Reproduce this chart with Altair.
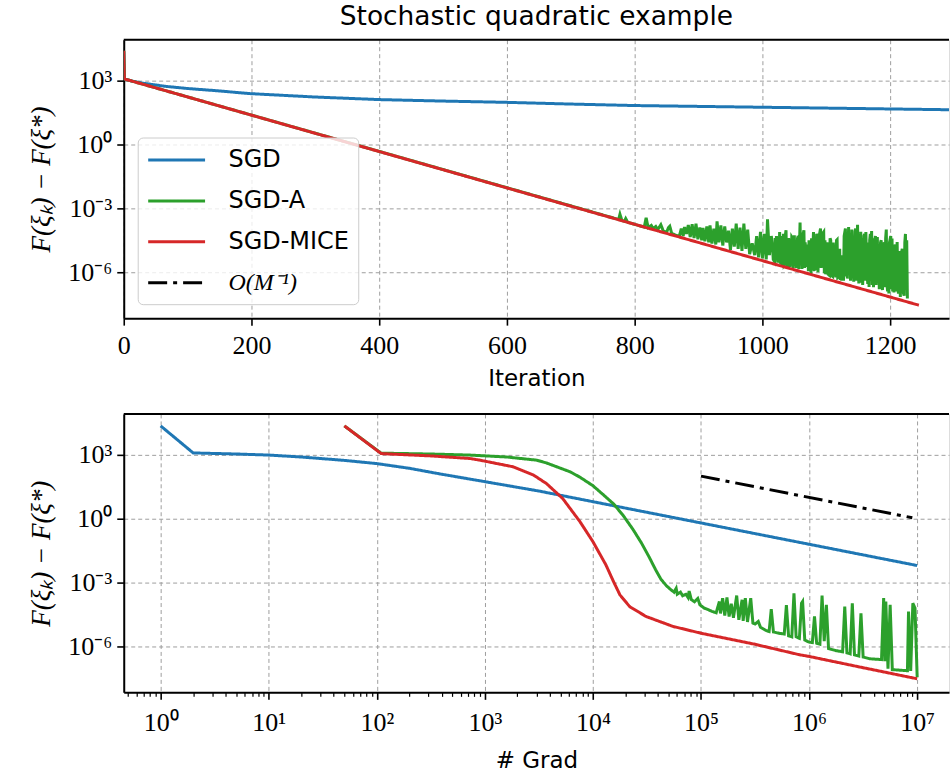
import altair as alt
import pandas as pd

TITLE = "Stochastic quadratic example"
SERIES = ["SGD", "SGD-A", "SGD-MICE", "O(M⁻¹)"]
COLORS = ["#1f77b4", "#2ca02c", "#d62728", "#000000"]
DASHES = [[1, 0], [1, 0], [1, 0], [19, 6, 4, 6]]

# ---------- top panel: (iteration, log10 of F(xi_k)-F(xi*)) ----------
sgd_top = [(0, 4.36), (1, 3.08), (10, 3.00), (30, 2.88), (66, 2.73), (100, 2.63), (144, 2.53),
           (198, 2.39), (300, 2.23), (400, 2.11), (500, 2.04), (600, 1.98), (700, 1.90),
           (800, 1.83), (900, 1.79), (1000, 1.75), (1100, 1.71), (1200, 1.67), (1300, 1.63)]
mice_top = [(0, 4.40), (1, 3.08), (400, -0.33), (800, -3.75), (1245, -7.55)]
sgda_top = [(0, 4.40), (1, 3.08), (770, -3.48), (775, -3.52), (777, -3.28), (780, -3.57), (784, -3.61),
            (786, -3.48), (789, -3.65), (800, -3.75), (815, -3.88), (818, -3.44), (821, -3.90),
            (826, -3.80), (829, -3.95), (833, -3.85), (836, -4.00), (841, -3.77), (845, -4.08),
            (850, -4.12), (853, -3.90), (855, -3.84), (858, -4.18), (866, -4.28), (870, -4.30),
            (873, -3.95), (876, -4.30), (878, -3.88), (881, -4.20), (884, -3.78), (887, -4.35),
            (890, -3.75), (893, -4.40), (896, -3.72), (899, -4.45), (902, -3.90), (905, -4.50),
            (907, -3.92), (910, -4.55), (913, -3.85), (916, -4.60), (918, -3.80), (921, -4.65),
            (924, -3.95), (927, -4.70), (929, -3.61), (932, -4.60), (935, -3.80), (938, -4.75),
            (941, -3.85), (944, -4.60), (947, -4.05), (950, -4.95), (953, -3.95), (956, -4.80),
            (959, -3.72), (962, -4.90), (965, -3.90), (968, -5.00), (971, -3.72), (974, -4.90),
            (977, -4.00), (980, -5.15), (984, -4.64), (988, -5.20), (991, -4.30), (994, -5.30),
            (997, -4.10), (1000, -5.35), (1003, -4.20), (1006, -5.40), (1008, -3.52), (1011, -5.20),
            (1014, -4.30), (1016, -4.89), (1017, -5.40), (1019, -5.50), (1020, -4.40), (1021, -5.45),
            (1022, -4.30), (1024, -5.55), (1025, -4.50), (1026, -5.50), (1027, -4.11), (1028, -5.55),
            (1030, -5.60), (1031, -4.30), (1032, -5.60), (1033, -4.20), (1034, -5.65), (1035, -5.60),
            (1036, -4.25), (1037, -4.03), (1038, -5.65), (1040, -5.70), (1041, -4.40), (1042, -4.66),
            (1043, -5.75), (1044, -4.50), (1045, -5.70), (1046, -4.35), (1047, -4.40), (1048, -5.80),
            (1050, -4.27), (1051, -5.70), (1052, -4.50), (1053, -5.80), (1055, -4.40), (1056, -4.30),
            (1057, -5.85), (1059, -3.67), (1060, -5.60), (1061, -4.20), (1062, -5.85), (1063, -4.30),
            (1065, -4.03), (1066, -5.80), (1067, -4.60), (1068, -5.20), (1070, -5.75), (1071, -4.70),
            (1072, -5.95), (1073, -4.50), (1075, -5.90), (1076, -5.95), (1077, -4.40), (1078, -5.90),
            (1080, -4.11), (1081, -5.95), (1082, -4.40), (1083, -5.90), (1085, -4.20), (1086, -4.30),
            (1087, -6.00), (1089, -4.30), (1091, -3.95), (1092, -5.80), (1093, -5.50), (1094, -4.20),
            (1096, -4.11), (1097, -6.05), (1098, -4.50), (1099, -6.10), (1101, -4.70), (1102, -4.60),
            (1103, -6.10), (1105, -6.15), (1106, -4.40), (1107, -4.50), (1108, -6.15), (1110, -6.20),
            (1111, -4.60), (1112, -6.20), (1113, -4.70), (1115, -6.25), (1116, -4.50), (1117, -4.47),
            (1118, -6.25), (1120, -6.20), (1121, -4.90), (1122, -6.37), (1123, -5.50), (1124, -6.40),
            (1125, -5.20), (1127, -6.40), (1128, -4.30), (1130, -3.95), (1131, -6.20), (1132, -4.50),
            (1133, -6.30), (1135, -3.88), (1136, -6.00), (1137, -4.20), (1138, -6.40), (1140, -4.00),
            (1141, -6.30), (1142, -4.40), (1143, -6.45), (1145, -4.10), (1146, -3.95), (1147, -6.40),
            (1149, -3.77), (1150, -5.80), (1151, -6.53), (1152, -4.30), (1153, -6.20), (1154, -4.10),
            (1155, -6.50), (1156, -4.40), (1157, -6.60), (1159, -4.30), (1160, -4.20), (1161, -6.40),
            (1162, -4.11), (1163, -5.50), (1165, -6.55), (1166, -4.60), (1167, -6.69), (1168, -4.50),
            (1169, -4.20), (1170, -6.40), (1171, -4.06), (1172, -6.60), (1173, -4.40), (1174, -6.70),
            (1176, -4.50), (1177, -4.30), (1178, -6.60), (1180, -4.35), (1181, -6.50), (1182, -4.70),
            (1183, -6.80), (1185, -4.60), (1186, -4.50), (1187, -6.50), (1188, -6.84), (1189, -4.80),
            (1191, -4.60), (1192, -6.70), (1193, -4.40), (1194, -4.00), (1195, -6.50), (1196, -6.90),
            (1197, -5.00), (1198, -7.00), (1199, -4.60), (1201, -4.30), (1202, -6.80), (1203, -4.42),
            (1204, -6.90), (1205, -4.80), (1206, -6.95), (1207, -4.90), (1208, -4.70), (1209, -6.90),
            (1211, -4.58), (1212, -6.70), (1213, -7.00), (1214, -5.00), (1216, -7.16), (1217, -5.20),
            (1219, -4.90), (1220, -6.90), (1222, -7.10), (1223, -4.60), (1224, -4.20), (1225, -6.80),
            (1226, -4.50), (1227, -7.23)]

# ---------- bottom panel: (log10 # grad, log10 of F(xi_k)-F(xi*)) ----------
sgd_bot = [(0.0, 4.36), (0.301, 3.09), (0.7, 3.04), (1.0, 2.99), (1.3, 2.90), (1.5, 2.82), (1.7, 2.74),
           (2.0, 2.59), (2.3, 2.37), (2.6, 2.09), (2.955, 1.78), (3.5, 1.30), (4.0, 0.80), (4.5, 0.30),
           (5.0, -0.20), (5.5, -0.70), (6.0, -1.20), (6.5, -1.70), (7.0, -2.20)]
mice_bot = [(1.70, 4.36), (2.04, 3.06), (2.5, 2.95), (2.86, 2.83), (2.955, 2.75), (3.26, 2.44),
            (3.45, 2.05), (3.57, 1.65), (3.72, 0.95), (3.88, -0.14), (4.0, -1.08), (4.12, -2.17),
            (4.19, -2.95), (4.25, -3.58), (4.34, -4.13), (4.49, -4.59), (4.74, -5.06), (5.0, -5.38),
            (5.5, -5.90), (5.91, -6.39), (6.0, -6.47), (6.5, -7.00), (7.0, -7.52)]
sgda_bot = [(1.70, 4.36), (2.04, 3.08), (2.5, 3.04), (2.86, 2.99), (3.2, 2.90), (3.48, 2.75), (3.57, 2.62),
            (3.79, 2.20), (3.88, 1.95), (4.0, 1.55), (4.09, 1.15), (4.19, 0.70), (4.28, 0.15),
            (4.37, -0.50), (4.45, -1.15), (4.52, -1.80), (4.58, -2.40), (4.63, -2.85), (4.68, -3.15),
            (4.72, -3.33), (4.75, -3.45), (4.77, -3.27), (4.78, -3.55), (4.81, -3.45), (4.83, -3.62),
            (4.86, -3.55), (4.88, -3.70), (4.89, -3.40), (4.91, -3.80), (4.94, -3.90), (4.97, -3.75),
            (4.99, -4.05), (5.03, -4.20), (5.07, -4.28), (5.10, -4.35), (5.14, -4.42), (5.17, -3.89),
            (5.18, -4.45), (5.20, -3.73), (5.22, -4.55), (5.24, -3.70), (5.26, -4.60), (5.28, -4.00),
            (5.30, -4.65), (5.33, -3.61), (5.35, -4.75), (5.38, -3.81), (5.39, -4.80), (5.41, -3.73),
            (5.43, -4.85), (5.46, -3.73), (5.48, -4.90), (5.50, -4.95), (5.53, -4.83), (5.55, -5.10),
            (5.60, -5.25), (5.63, -5.30), (5.65, -4.25), (5.67, -5.32), (5.72, -5.38), (5.77, -5.42),
            (5.79, -4.06), (5.81, -5.50), (5.84, -5.55), (5.86, -3.50), (5.88, -5.55), (5.91, -5.62),
            (5.93, -3.97), (5.94, -3.89), (5.96, -5.70), (6.00, -5.80), (6.03, -5.82), (6.05, -4.59),
            (6.07, -5.85), (6.10, -5.90), (6.12, -3.61), (6.14, -5.75), (6.16, -4.05), (6.18, -6.10),
            (6.25, -6.20), (6.31, -6.25), (6.33, -4.13), (6.35, -6.30), (6.38, -6.35), (6.40, -3.97),
            (6.42, -6.40), (6.46, -6.45), (6.48, -4.44), (6.50, -6.50), (6.56, -6.58), (6.62, -6.60),
            (6.67, -6.62), (6.69, -3.73), (6.70, -6.70), (6.71, -3.89), (6.73, -7.05), (6.75, -4.05),
            (6.77, -7.09), (6.85, -7.12), (6.91, -7.14), (6.92, -4.36), (6.94, -7.15), (6.96, -3.97),
            (6.98, -4.20), (7.00, -7.45)]
order_bot = [(5.0, 2.0), (6.955, 0.045)]

# tick values
y_ticks = [1e-6, 1e-3, 1, 1e3]
top_x_ticks = [0, 200, 400, 600, 800, 1000, 1200]
bot_x_ticks = [m * 10.0 ** k for k in range(-1, 8) for m in range(1, 10) if 0.45 <= m * 10.0 ** k <= 1.9e7]

W, H = 827, 279
SANS = "DejaVu Sans"
SERIF = "Liberation Serif"


def frame(pairs, name, xlog=False):
    return pd.DataFrame({
        "x": [10 ** a if xlog else a for a, _ in pairs],
        "y": [10 ** b for _, b in pairs],
        "series": name,
    })


color_scale = alt.Scale(domain=SERIES, range=COLORS)
dash_scale = alt.Scale(domain=SERIES, range=DASHES)
y_scale = alt.Scale(type="log", domain=[10 ** -8.158, 10 ** 4.922], nice=False)
top_x_scale = alt.Scale(domain=[0, W / 0.64], nice=False, zero=False)
bot_x_scale = alt.Scale(type="log", domain=[10 ** -0.3416, 10 ** (-0.3416 + W / 108.3)], nice=False)

common_axis = dict(
    grid=True, gridDash=[4, 3], gridColor="#9e9e9e", gridWidth=1,
    tickColor="black", tickWidth=1.6, tickSize=7,
    domainColor="black", domainWidth=2,
    labelFont=SERIF, labelFontSize=26, labelColor="black",
    labelFlush=False, labelOverlap=False, labelBound=False,
    titleColor="black", titleFontWeight="normal",
)

y_label_expr = ("datum.value < 1e-5 ? '10⁻⁶' : datum.value < 1e-2 ? '10⁻³' : "
                "datum.value < 10 ? '10⁰' : '10³'")
y_axis = alt.Axis(values=y_ticks, labelExpr=y_label_expr, title="F(ξₖ) − F(ξ*)",
                  titleFont=SERIF, titleFontStyle="italic", titleFontSize=27, titlePadding=12,
                  labelPadding=5, **common_axis)

top_x_axis = alt.Axis(values=top_x_ticks, format="d", title="Iteration", titleFont=SANS,
                      titleFontSize=23, titlePadding=9, labelPadding=7, **common_axis)

is_decade = "abs(log(datum.value)/LN10 - round(log(datum.value)/LN10)) < 0.001"
bot_common = dict(common_axis)
bot_common.pop("tickSize")
bot_common.pop("tickWidth")
bot_x_axis = alt.Axis(
    values=bot_x_ticks,
    labelExpr=("abs(log(datum.value)/LN10 - round(log(datum.value)/LN10)) > 0.001 ? '' : "
               "['10⁰','10¹','10²','10³','10⁴','10⁵','10⁶','10⁷'][round(log(datum.value)/LN10)]"),
    tickSize={"condition": {"test": is_decade, "value": 7}, "value": 4},
    tickWidth={"condition": {"test": is_decade, "value": 1.6}, "value": 1.2},
    gridOpacity={"condition": {"test": is_decade, "value": 1}, "value": 0},
    title="# Grad", titleFont=SANS, titleFontSize=23, titlePadding=14, labelPadding=10,
    **bot_common)

legend = alt.Legend(
    title=None, orient="none", legendX=14, legendY=98,
    fillColor="rgba(255,255,255,0.8)", strokeColor="#cccccc", cornerRadius=5, padding=9,
    labelFont=alt.ExprRef("datum.label == 'O(M⁻¹)' ? '" + SERIF + "' : '" + SANS + "'"),
    labelFontStyle=alt.ExprRef("datum.label == 'O(M⁻¹)' ? 'italic' : 'normal'"),
    labelFontSize=24, labelColor="black", labelLimit=400, labelOffset=55,
    symbolType="M-1,0H3.75", symbolSize=576, symbolStrokeWidth=3, rowPadding=15,
)


def line_layer(df, xscale, xaxis, leg):
    return alt.Chart(df).mark_line(strokeWidth=3, clip=True, strokeCap="butt").encode(
        x=alt.X("x:Q", scale=xscale, axis=xaxis),
        y=alt.Y("y:Q", scale=y_scale, axis=y_axis),
        color=alt.Color("series:N", scale=color_scale, legend=leg),
        strokeDash=alt.StrokeDash("series:N", scale=dash_scale, legend=leg),
    )


def top_border():
    return alt.Chart(pd.DataFrame({"k": [0]})).mark_rule(color="black", strokeWidth=2).encode(
        x=alt.value(0), x2=alt.value(W), y=alt.value(0))


top = alt.layer(
    line_layer(frame(sgd_top, "SGD"), top_x_scale, top_x_axis, legend),
    line_layer(frame(sgda_top, "SGD-A"), top_x_scale, top_x_axis, legend),
    line_layer(frame(mice_top, "SGD-MICE"), top_x_scale, top_x_axis, legend),
    top_border(),
).properties(
    width=W, height=H,
    title=alt.TitleParams(text=TITLE, font=SANS, fontSize=26.5, fontWeight="normal",
                          anchor="middle", offset=8, color="black"),
)

bottom = alt.layer(
    line_layer(frame(sgd_bot, "SGD", True), bot_x_scale, bot_x_axis, None),
    line_layer(frame(sgda_bot, "SGD-A", True), bot_x_scale, bot_x_axis, None),
    line_layer(frame(mice_bot, "SGD-MICE", True), bot_x_scale, bot_x_axis, None),
    line_layer(frame(order_bot, "O(M⁻¹)", True), bot_x_scale, bot_x_axis, None),
    top_border(),
).properties(width=W, height=H)

chart = alt.vconcat(top, bottom, spacing=21).resolve_scale(
    color="independent", strokeDash="independent", x="independent", y="independent"
).resolve_legend(color="independent", strokeDash="independent").properties(
    padding={"left": 27, "top": 3, "right": 0, "bottom": 0}
).configure_view(stroke=None).configure(background="white")

chart.save("out.html", embed_options={"renderer": "svg", "actions": False})
